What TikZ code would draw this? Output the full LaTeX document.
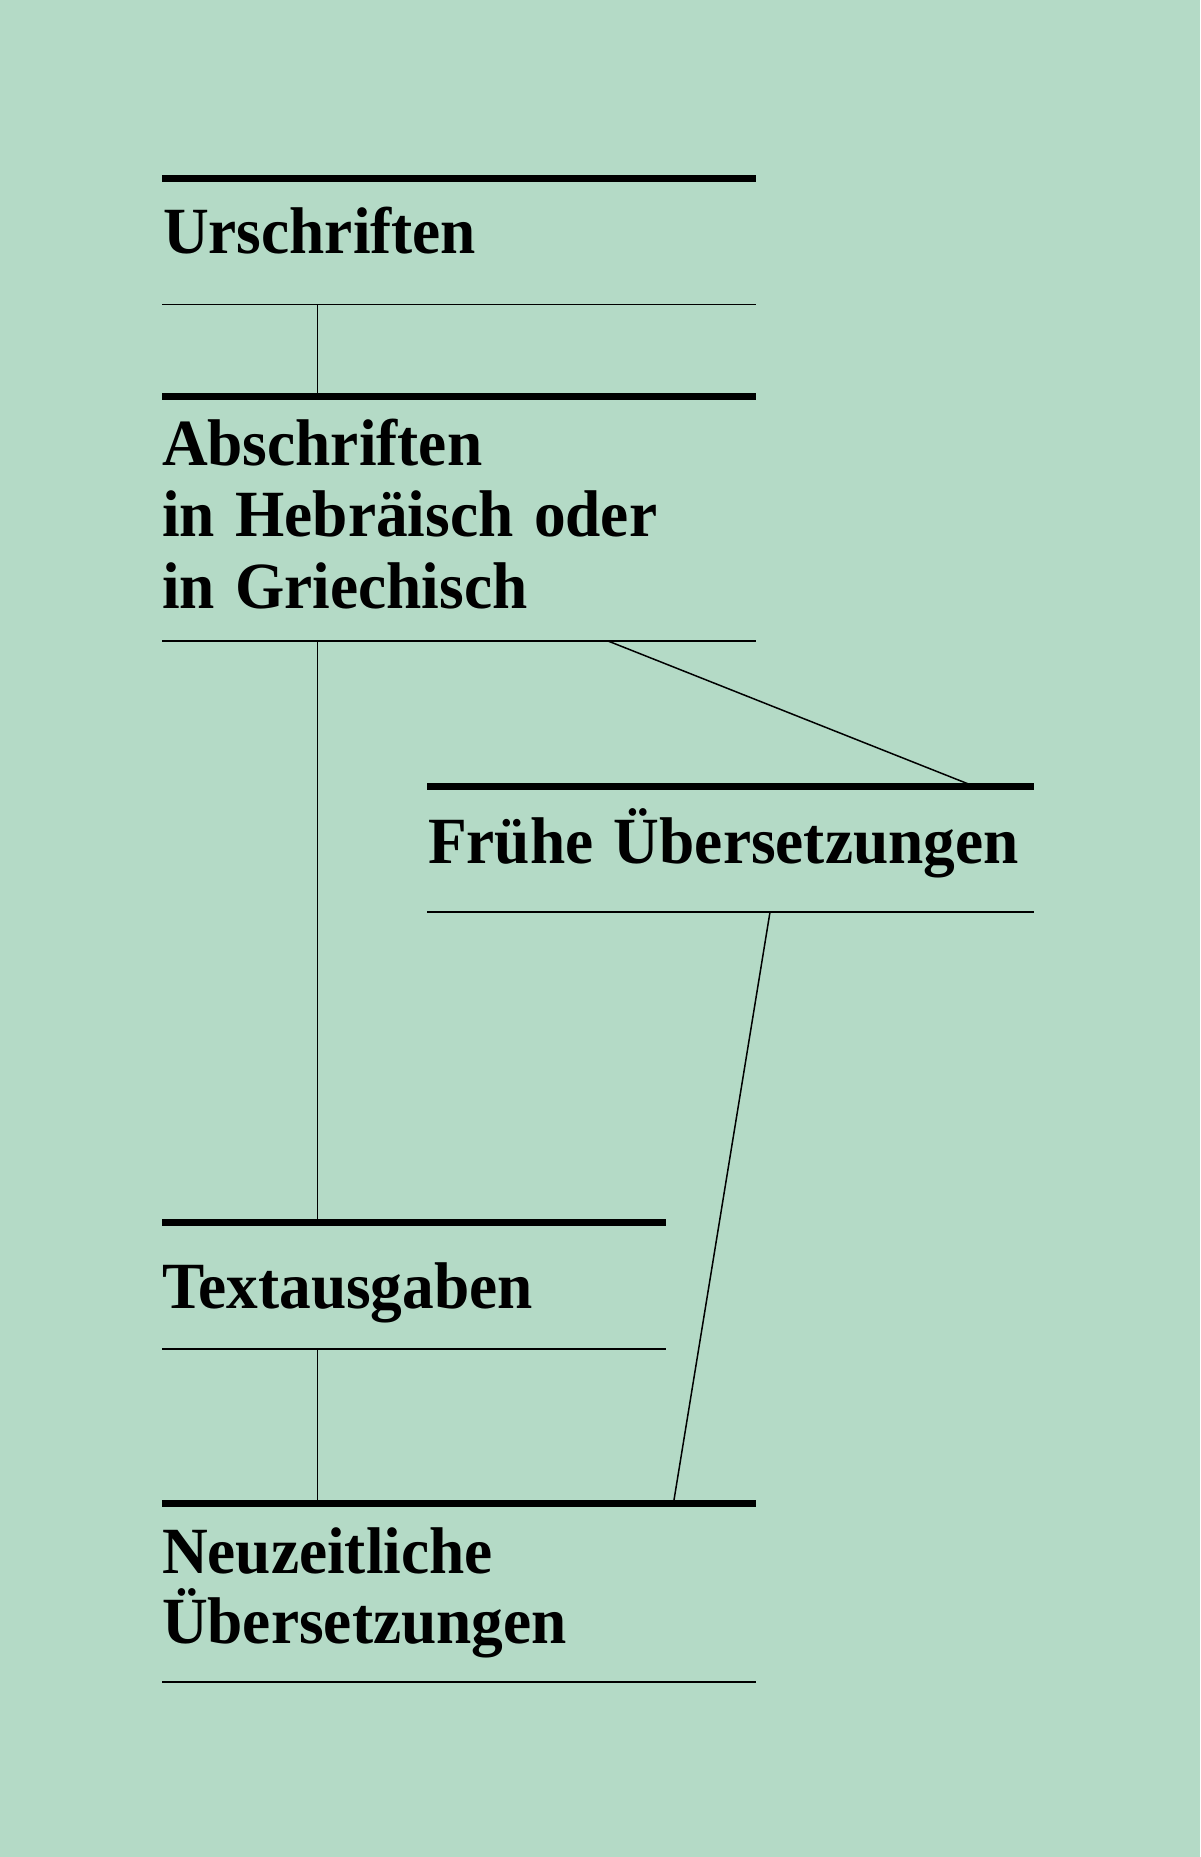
\documentclass[tikz,border=0pt]{standalone}
\usepackage{fontspec}
\setmainfont{Liberation Serif}[FakeStretch=0.96, WordSpace=1.3]
\definecolor{bgmint}{RGB}{180,218,198}
\tikzset{
  x=1pt, y=1pt,
  frame/.style={inner sep=0pt, outer sep=0pt, draw=none, anchor=north west},
  heavyrule/.style={line width=7pt, black},
  lightrule/.style={line width=1.4pt, black},
  link/.style={line width=1.5pt, black},
  lbl/.style={inner sep=0pt, outer sep=0pt, anchor=base west,
    font=\fontsize{66}{71}\selectfont\bfseries}
}
\begin{document}
\begin{tikzpicture}
\fill[bgmint] (0,0) rectangle (1200,-1857);
\useasboundingbox (0,0) rectangle (1200,-1857);

% frames
\node[frame, minimum width=594, minimum height=126.5] (u) at (162,-178) {};
\node[frame, minimum width=594, minimum height=244.5] (a) at (162,-396.5) {};
\node[frame, minimum width=607, minimum height=126] (f) at (427,-786) {};
\node[frame, minimum width=504, minimum height=127] (t) at (162,-1222) {};
\node[frame, minimum width=594, minimum height=179] (n) at (162,-1503) {};

\foreach \b in {u,a,f,t,n}{
  \draw[heavyrule] (\b.north west) -- (\b.north east);
  \draw[lightrule] (\b.south west) -- (\b.south east);
}

% texts
\node[lbl] (ut) at (163,-253) {Urschriften};
\node[lbl] (a1) at (162,-465) {Abschriften};
\node[lbl] (a2) at (162,-536.5) {in Hebräisch oder};
\node[lbl] (a3) at (162,-608) {in Griechisch};
\node[lbl] (ft) at (428,-863) {Frühe Übersetzungen};
\node[lbl] (tt) at (162,-1308) {Textausgaben};
\node[lbl] (n1) at (162,-1573) {Neuzeitliche};
\node[lbl] (n2) at (162,-1643) {Übersetzungen};

% connector positions
\coordinate (vx) at (317.5,0);
\coordinate (afs) at (608,0);
\coordinate (afe) at (973.5,0);
\coordinate (fns) at (770,0);
\coordinate (fne) at (673.5,0);

\draw[link] (u.south -| vx) -- (a.north -| vx);
\draw[link] (a.south -| vx) -- (t.north -| vx);
\draw[link] (t.south -| vx) -- (n.north -| vx);
\draw[link] (a.south -| afs) -- (f.north -| afe);
\draw[link] (f.south -| fns) -- (n.north -| fne);
\end{tikzpicture}
\end{document}
